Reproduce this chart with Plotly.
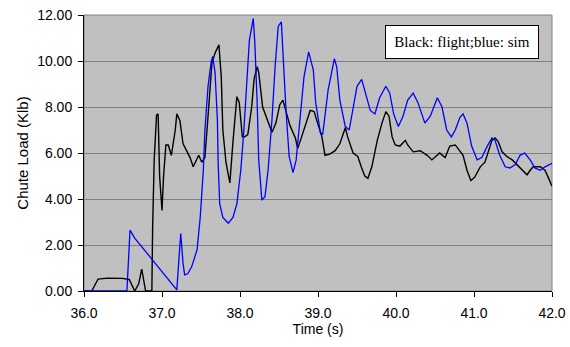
import plotly.graph_objects as go

flight_t = [36.00, 36.10, 36.18, 36.30, 36.49, 36.58, 36.65, 36.70, 36.74, 36.79, 36.87, 36.88, 36.90, 36.93, 36.95, 36.97,
            37.00, 37.02, 37.05, 37.08, 37.12, 37.17, 37.19, 37.23, 37.27, 37.36, 37.40, 37.45, 37.47, 37.51, 37.55, 37.59,
            37.64, 37.68, 37.71, 37.73, 37.76, 37.78, 37.82, 37.87, 37.91, 37.96, 37.99, 38.03, 38.06, 38.10, 38.15, 38.18,
            38.22, 38.24, 38.29, 38.36, 38.41, 38.46, 38.51, 38.55, 38.60, 38.64, 38.71, 38.74, 38.79, 38.86, 38.90, 38.95,
            38.99, 39.05, 39.09, 39.15, 39.22, 39.28, 39.35, 39.38, 39.45, 39.51, 39.56, 39.60, 39.64, 39.69, 39.76, 39.82,
            39.87, 39.91, 39.95, 39.99, 40.05, 40.12, 40.15, 40.22, 40.31, 40.40, 40.46, 40.53, 40.56, 40.63, 40.69, 40.76,
            40.82, 40.86, 40.91, 40.96, 41.01, 41.08, 41.14, 41.18, 41.23, 41.27, 41.31, 41.36, 41.42, 41.49, 41.55, 41.62,
            41.68, 41.72, 41.76, 41.85, 41.91, 41.95, 42.00]
flight_load = [0.0, 0.0, 0.52, 0.56, 0.55, 0.5, 0.0, 0.3, 0.95, 0.0, 0.0, 2.8, 5.7, 7.65, 7.7, 4.96,
               3.5, 5.0, 6.35, 6.35, 5.9, 7.0, 7.7, 7.4, 6.4, 5.8, 5.4, 5.8, 5.9, 5.6, 5.8, 7.6,
               9.9, 10.35, 10.6, 10.7, 9.3, 7.0, 5.6, 4.7, 6.5, 8.45, 8.2, 6.7, 6.7, 6.8, 8.0, 9.2,
               9.75, 9.5, 8.0, 7.3, 6.9, 7.3, 8.1, 8.3, 7.7, 7.2, 6.65, 6.2, 6.7, 7.4, 7.85, 7.8,
               7.4, 6.7, 5.9, 5.95, 6.1, 6.4, 7.1, 6.7, 6.0, 5.85, 5.35, 5.0, 4.9, 5.4, 6.55, 7.3,
               7.8, 7.6, 6.7, 6.35, 6.3, 6.55, 6.35, 6.05, 6.1, 5.9, 5.7, 5.9, 6.0, 5.8, 6.3, 6.35,
               6.05, 5.9, 5.25, 4.8, 4.95, 5.4, 5.6, 6.0, 6.55, 6.65, 6.5, 6.05, 5.85, 5.7, 5.5, 5.25,
               5.05, 5.25, 5.4, 5.4, 5.25, 4.95, 4.55]

sim_t = [36.00, 36.55, 36.59, 36.65, 37.19, 37.24, 37.27, 37.29, 37.33, 37.38, 37.45, 37.49, 37.53, 37.55, 37.59, 37.63,
         37.65, 37.68, 37.71, 37.72, 37.74, 37.78, 37.85, 37.91, 37.96, 38.01, 38.05, 38.09, 38.12, 38.17, 38.19, 38.22,
         38.24, 38.28, 38.32, 38.36, 38.41, 38.45, 38.49, 38.53, 38.55, 38.59, 38.63, 38.68, 38.72, 38.77, 38.82, 38.88,
         38.94, 38.97, 39.03, 39.06, 39.13, 39.21, 39.24, 39.28, 39.35, 39.40, 39.45, 39.50, 39.56, 39.60, 39.67, 39.73,
         39.79, 39.87, 39.92, 39.97, 40.03, 40.09, 40.15, 40.22, 40.28, 40.37, 40.44, 40.53, 40.59, 40.65, 40.71, 40.76,
         40.82, 40.86, 40.91, 40.97, 41.04, 41.10, 41.17, 41.23, 41.27, 41.33, 41.40, 41.46, 41.53, 41.59, 41.65, 41.72,
         41.78, 41.85, 41.91, 42.00]
sim_load = [0.0, 0.0, 2.65, 2.3, 0.05, 2.5, 1.2, 0.7, 0.75, 1.05, 1.8, 3.2, 5.25, 7.0, 8.9, 9.95,
            10.2, 9.5, 7.45, 5.55, 3.8, 3.2, 2.95, 3.2, 3.8, 5.25, 7.0, 9.5, 10.9, 11.85, 10.8, 8.2,
            5.7, 3.95, 4.1, 5.25, 7.45, 9.75, 11.5, 11.7, 10.35, 7.85, 5.85, 5.15, 5.7, 7.45, 9.3, 10.4,
            9.6, 8.2, 6.9, 6.8, 8.75, 10.1, 9.75, 8.3, 7.15, 7.0, 8.0, 8.9, 9.2, 8.75, 7.85, 7.7,
            8.4, 8.9, 8.6, 7.7, 7.15, 7.6, 8.3, 8.6, 8.2, 7.3, 7.6, 8.4, 8.0, 7.0, 6.7, 7.0,
            7.55, 7.7, 7.3, 6.3, 5.7, 5.8, 6.3, 6.65, 6.55, 5.9, 5.4, 5.35, 5.5, 5.9, 6.0, 5.7,
            5.35, 5.25, 5.4, 5.55]

x_ticks = [36, 37, 38, 39, 40, 41, 42]
y_ticks = [0, 2, 4, 6, 8, 10, 12]

fig = go.Figure()
fig.add_trace(go.Scatter(x=flight_t, y=flight_load, mode="lines", name="flight",
                         line=dict(color="#000000", width=1.4)))
fig.add_trace(go.Scatter(x=sim_t, y=sim_load, mode="lines", name="sim",
                         line=dict(color="#0000FF", width=1.3)))

tick_font = dict(family="Liberation Sans, Arial, sans-serif", size=14, color="#000000")
title_font = dict(family="Liberation Sans, Arial, sans-serif", size=14, color="#000000")

fig.update_layout(
    width=570, height=347,
    margin=dict(l=84, r=18, t=15, b=56),
    paper_bgcolor="#FFFFFF",
    plot_bgcolor="#C0C0C0",
    showlegend=False,
    font=tick_font,
    xaxis=dict(range=[36, 42], tickvals=x_ticks, tickformat=".1f", automargin=False,
               showgrid=False, zeroline=False,
               showline=True, linecolor="#000000", linewidth=1, mirror=False,
               ticks="outside", ticklen=5, tickcolor="#000000", ticklabelstandoff=4,
               title=dict(text="Time (s)", font=title_font, standoff=4),
               tickfont=tick_font),
    yaxis=dict(range=[0, 12], tickvals=y_ticks, tickformat=".2f", automargin=False,
               showgrid=True, gridcolor="#808080", gridwidth=1, zeroline=False,
               showline=True, linecolor="#000000", linewidth=1,
               ticks="outside", ticklen=5, tickcolor="#000000", ticklabelstandoff=3,
               title=dict(text="Chute Load (Klb)", font=dict(title_font, size=15), standoff=4),
               tickfont=tick_font),
    shapes=[dict(type="rect", xref="paper", yref="paper", x0=0, x1=1, y0=0, y1=1,
                 line=dict(color="#808080", width=1), fillcolor="rgba(0,0,0,0)", layer="below")],
    annotations=[dict(text="Black: flight;blue: sim", xref="paper", yref="paper",
                      x=(385 - 84) / 468, y=(291 - 25) / 276, xanchor="left", yanchor="top",
                      showarrow=False, align="center",
                      font=dict(family="Liberation Serif, DejaVu Serif, serif", size=15, color="#000000"),
                      bgcolor="#FFFFFF", bordercolor="#000000", borderwidth=1,
                      width=148, height=28, borderpad=2)],
)

fig.write_html("out.html")
